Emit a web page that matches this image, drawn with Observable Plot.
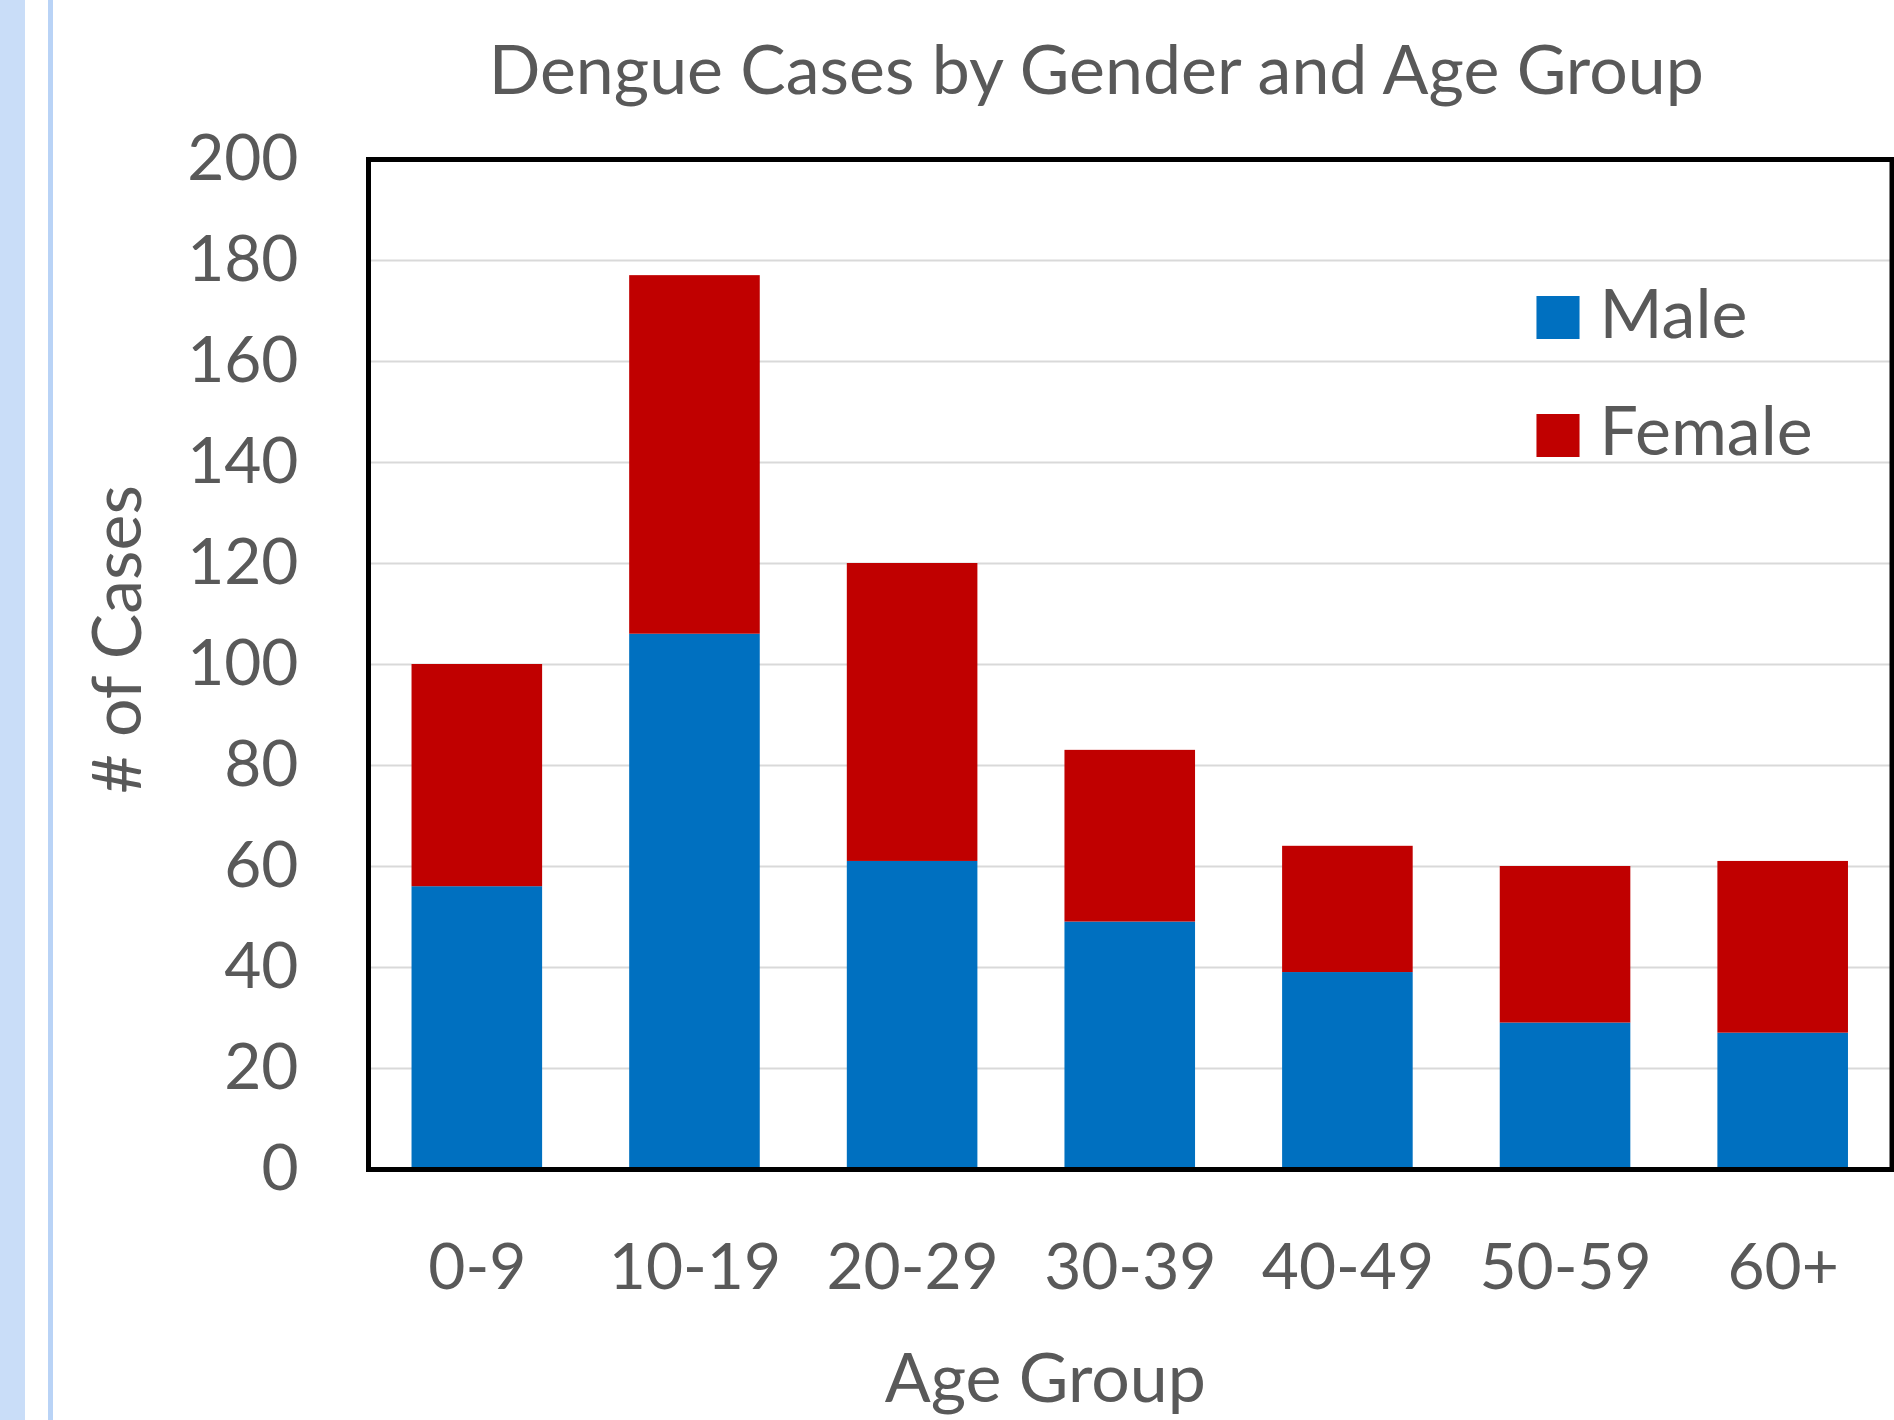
<!DOCTYPE html>
<html>
<head>
<meta charset="utf-8">
<script src="https://cdn.jsdelivr.net/npm/d3@7"></script>
<script src="https://cdn.jsdelivr.net/npm/@observablehq/plot@0.6"></script>
<style>
  html, body { margin: 0; padding: 0; background: #fff; }
  #chart {
    position: relative; width: 1894px; height: 1420px; overflow: hidden;
    background: linear-gradient(to right, #c9ddf8 0px, #c9ddf8 25px, #ffffff 25px, #ffffff 48px, #b9d3f6 48px, #b9d3f6 53px, #ffffff 53px);
  }
</style>
</head>
<body>
<div id="chart"></div>
<script>
const ageGroups = ["0-9", "10-19", "20-29", "30-39", "40-49", "50-59", "60+"];
const male = [56, 106, 61, 49, 39, 29, 27];
const female = [44, 71, 59, 34, 25, 31, 34];
const series = ["Male", "Female"];
const seriesColors = ["#0070c0", "#c00000"];
const yTicks = [0, 20, 40, 60, 80, 100, 120, 140, 160, 180, 200];
const titleText = "Dengue Cases by Gender and Age Group";
const xLabel = "Age Group";
const yLabel = "# of Cases";

const seriesValues = [male, female];
const rows = series.flatMap((s, si) => ageGroups.map((a, i) => ({age: a, sex: s, value: seriesValues[si][i]})));

const FONT = "Lato, 'Open Sans', 'Noto Sans', sans-serif";
const TEXT = "#595959";
const FS = 64;      // tick labels
const FS_BIG = 68;  // title, axis titles, legend

const legendMarks = series.flatMap((s, i) => [
  Plot.dot([s], {frameAnchor: "top-left", dx: 1189.5, dy: 158 + i * 118, symbol: "square", r: 24.3, fill: seriesColors[i], stroke: null}),
  Plot.text([s], {frameAnchor: "top-left", dx: 1231, dy: 157 + i * 117, text: d => d, textAnchor: "start", lineAnchor: "middle", fontSize: FS_BIG, fill: TEXT})
]);

const plot = Plot.plot({
  width: 1894,
  height: 1420,
  marginLeft: 368,
  marginRight: 2.5,
  marginTop: 159,
  marginBottom: 251,
  style: {fontFamily: FONT, fontSize: FS + "px", color: TEXT, background: "transparent", overflow: "visible"},
  x: {domain: ageGroups, paddingInner: 0.4, paddingOuter: 0.2, round: false, label: null},
  y: {domain: [0, 200], label: null},
  color: {domain: series, range: seriesColors},
  marks: [
    Plot.gridY(yTicks, {stroke: "#d9d9d9", strokeOpacity: 1, strokeWidth: 2}),
    Plot.barY(rows, {x: "age", y: "value", fill: "sex"}),
    Plot.frame({stroke: "#000", strokeWidth: 5}),
    Plot.axisY({ticks: yTicks, tickSize: 0, tickPadding: 70, fontSize: FS, label: null}),
    Plot.axisX({tickSize: 0, tickPadding: 74, fontSize: FS, label: null}),
    Plot.text([titleText], {frameAnchor: "top", dx: -34, dy: -87, text: d => d, textAnchor: "middle", lineAnchor: "middle", fontSize: FS_BIG, fill: TEXT}),
    Plot.text([yLabel], {frameAnchor: "left", dx: -249, dy: -25, rotate: -90, text: d => d, textAnchor: "middle", lineAnchor: "middle", fontSize: FS_BIG, fill: TEXT}),
    Plot.text([xLabel], {frameAnchor: "bottom", dx: -85, dy: 211, text: d => d, textAnchor: "middle", lineAnchor: "middle", fontSize: FS_BIG, fill: TEXT}),
    ...legendMarks
  ]
});
document.getElementById("chart").appendChild(plot);
</script>
</body>
</html>
